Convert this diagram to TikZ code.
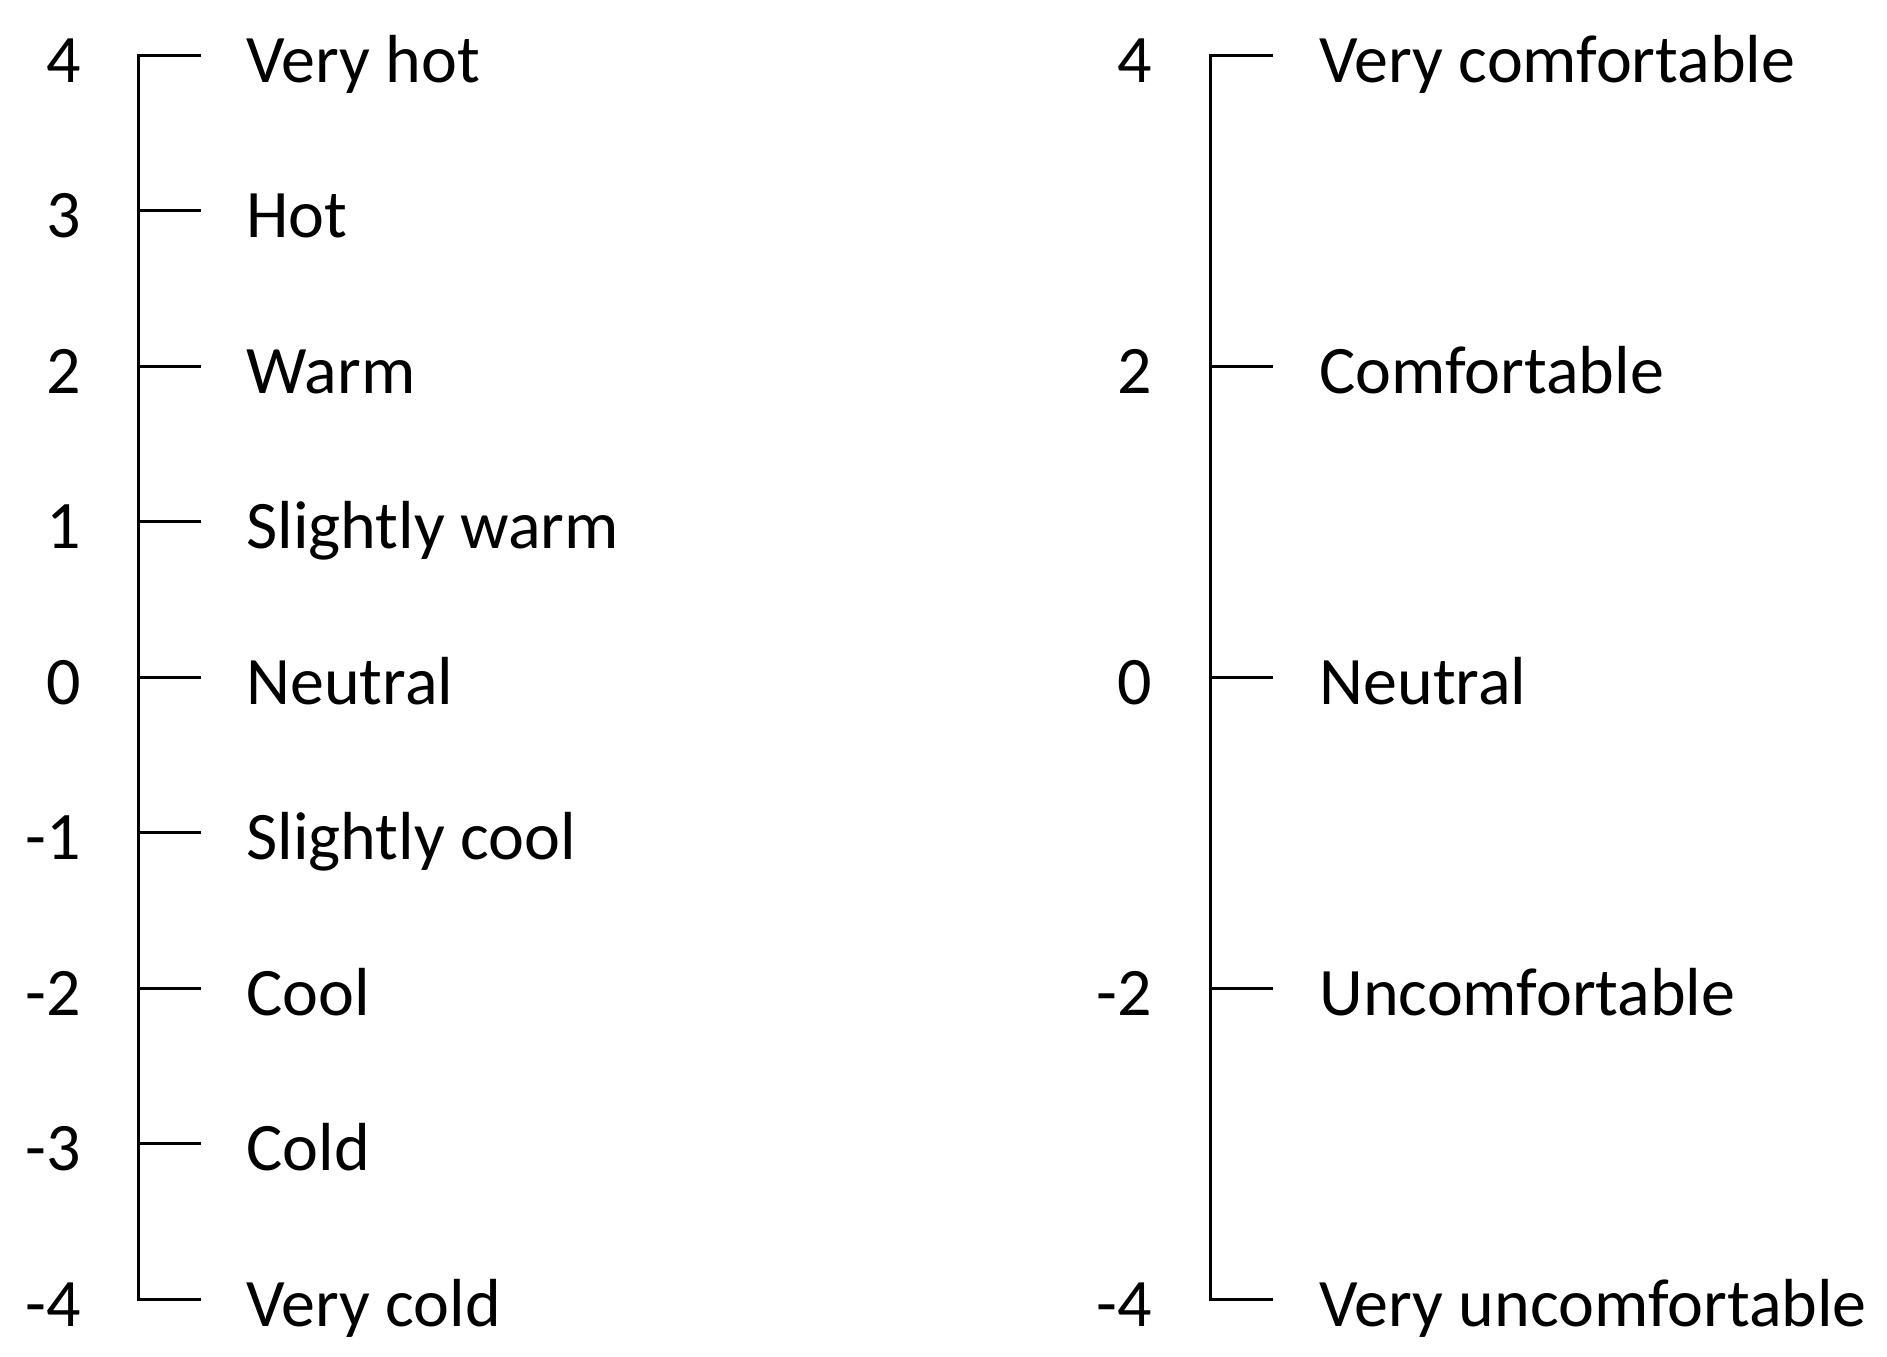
\documentclass[tikz,border=0pt]{standalone}
\usepackage{fontspec}
\setmainfont{Carlito}
\begin{document}
\begin{tikzpicture}[x=1pt,y=-1pt,line width=3pt,
  lbl/.style={anchor=base west,inner sep=0pt,font=\fontsize{68}{80}\selectfont},
  num/.style={anchor=base east,inner sep=0pt,font=\fontsize{68}{80}\selectfont}]
\useasboundingbox (0,0) rectangle (1887,1357);
% left scale
\foreach \v/\t [count=\i from 0] in {4/Very hot,3/Hot,2/Warm,1/Slightly warm,0/Neutral,-1/Slightly cool,-2/Cool,-3/Cold,-4/Very cold}{
  \pgfmathsetmacro{\yy}{55+\i*155.5}
  \coordinate (La\i) at (138,\yy);
  \coordinate (Lb\i) at (201,\yy);
  \node[num] (Ln\i) at (82.5,\yy+27) {\v};
  \node[lbl] (Lt\i) at (245,\yy+27) {\t};
}
\draw[line join=miter] (Lb0) -- (La0) -- (La8) -- (Lb8);
\foreach \i in {1,...,7}{\draw (La\i) -- (Lb\i);}
% right scale
\foreach \v/\t [count=\i from 0] in {4/Very comfortable,2/Comfortable,0/Neutral,-2/Uncomfortable,-4/Very uncomfortable}{
  \pgfmathsetmacro{\yy}{55+\i*311}
  \coordinate (Ra\i) at (1210,\yy);
  \coordinate (Rb\i) at (1273,\yy);
  \node[num] (Rn\i) at (1153.5,\yy+27) {\v};
  \node[lbl] (Rt\i) at (1318,\yy+27) {\t};
}
\draw[line join=miter] (Rb0) -- (Ra0) -- (Ra4) -- (Rb4);
\foreach \i in {1,2,3}{\draw (Ra\i) -- (Rb\i);}
\end{tikzpicture}
\end{document}
